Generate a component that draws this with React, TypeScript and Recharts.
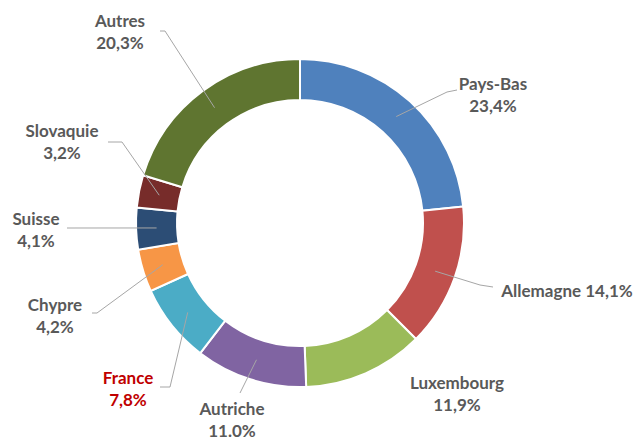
import { PieChart, Pie, Cell } from 'recharts';

const countries = ['Pays-Bas', 'Allemagne', 'Luxembourg', 'Autriche', 'France', 'Chypre', 'Suisse', 'Slovaquie', 'Autres'];
const shares = [23.4, 14.1, 11.9, 11.0, 7.8, 4.2, 4.1, 3.2, 20.3];
const shareLabels = ['23,4%', '14,1%', '11,9%', '11.0%', '7,8%', '4,2%', '4,1%', '3,2%', '20,3%'];
const colors = ['#4F81BD', '#C0504D', '#9BBB59', '#8064A2', '#4BACC6', '#F79646', '#2C4D75', '#772C2A', '#5F7530'];

const data = countries.map((name, i) => ({ name, value: shares[i], pct: shareLabels[i] }));

// label placement relative to pie centre: text centre (x, first line y), leader end + elbow, inline = one line
const LAYOUT = [
  { tx: 193, ty: -140, pts: [[157, -133], [147, -131]] },
  { tx: 267, ty: 67, inline: true, pts: [[193, 64], [180, 62]] },
  { tx: 157, ty: 159, pts: null },
  { tx: -68, ty: 185, pts: [[-60, 170]] },
  { tx: -172, ty: 154, red: true, pts: [[-140, 164], [-130, 164]] },
  { tx: -245, ty: 81, pts: [[-208, 90], [-203, 90]] },
  { tx: -264, ty: -5, pts: [[-233, 5]] },
  { tx: -238, ty: -93, pts: [[-192, -81], [-178, -81]] },
  { tx: -180, ty: -203, pts: [[-140, -192], [-135, -192]] },
];

const RAD = Math.PI / 180;

const renderLabel = (props: any) => {
  const { cx, cy, midAngle, innerRadius, outerRadius, index, payload } = props;
  const l = LAYOUT[index];
  const r = (innerRadius + outerRadius) / 2;
  const px = cx + r * Math.cos(-midAngle * RAD);
  const py = cy + r * Math.sin(-midAngle * RAD);
  const fill = l.red ? '#C00000' : '#595959';
  const line = l.pts
    ? [...l.pts.map(([x, y]) => `${cx + x},${cy + y}`), `${px},${py}`].join(' ')
    : null;
  const name = payload?.name ?? data[index].name;
  const pct = payload?.pct ?? data[index].pct;
  return (
    <g>
      {line && <polyline points={line} fill="none" stroke="#A6A6A6" strokeWidth={1} />}
      {l.inline ? (
        <text x={cx + l.tx} y={cy + l.ty} textAnchor="middle" dominantBaseline="central" fill={fill}
          fontSize={17} fontWeight="bold" fontFamily="Lato, sans-serif">
          {name} {pct}
        </text>
      ) : (
        <text textAnchor="middle" fill={fill} fontSize={17} fontWeight="bold" fontFamily="Lato, sans-serif">
          <tspan x={cx + l.tx} y={cy + l.ty} dominantBaseline="central">{name}</tspan>
          <tspan x={cx + l.tx} y={cy + l.ty + 22} dominantBaseline="central">{pct}</tspan>
        </text>
      )}
    </g>
  );
};

export default function App() {
  return (
    <div style={{ position: 'absolute', left: 0, top: 0, background: '#fff' }}>
      <PieChart width={638} height={441} margin={{ top: 0, right: 0, bottom: 0, left: 0 }}>
        <Pie
          data={data}
          dataKey="value"
          nameKey="name"
          cx={300}
          cy={223}
          innerRadius={123}
          outerRadius={164}
          startAngle={90}
          endAngle={-270}
          stroke="#fff"
          strokeWidth={2}
          label={renderLabel}
          labelLine={false}
          isAnimationActive={false}
        >
          {data.map((d, i) => (
            <Cell key={d.name} fill={colors[i]} />
          ))}
        </Pie>
      </PieChart>
    </div>
  );
}
